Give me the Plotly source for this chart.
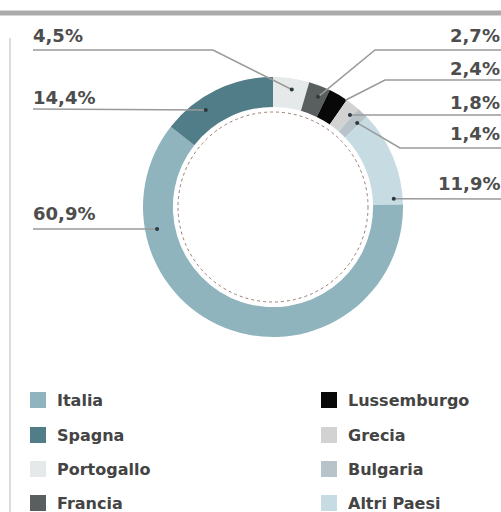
import math
import plotly.graph_objects as go

# ---------------- data ----------------
countries = ["Italia", "Spagna", "Portogallo", "Francia",
             "Lussemburgo", "Grecia", "Bulgaria", "Altri Paesi"]
shares = [60.9, 14.4, 4.5, 2.7, 2.4, 1.8, 1.4, 11.9]
# clockwise order of the slices around the ring, starting at 12 o'clock
ring_order = ["Portogallo", "Francia", "Lussemburgo", "Grecia",
              "Bulgaria", "Altri Paesi", "Italia", "Spagna"]

# ---------------- style ----------------
colors = {
    "Italia": "#8fb4be",
    "Spagna": "#517d89",
    "Portogallo": "#e6e9e9",
    "Francia": "#595e5e",
    "Lussemburgo": "#080808",
    "Grecia": "#d2d2d2",
    "Bulgaria": "#b8c3c9",
    "Altri Paesi": "#c6dce2",
}
W, H = 501, 512
cx, cy, R_out = 273, 207, 130
hole = 0.77
# label layout: side, text centre y, line y, bend x, anchor fraction in slice, anchor radius, dot
label_cfg = {
    "Portogallo":  ("left", 35, 50, 213, 0.56, 119, True),
    "Spagna":      ("left", 97, 109, None, 0.33, 118, True),
    "Italia":      ("left", 213, 229, None, 0.777, 118, True),
    "Francia":     ("right", 35, 50, 375, 0.62, 119, True),
    "Lussemburgo": ("right", 68, 80, 385, 0.95, 129, False),
    "Grecia":      ("right", 102, 115, None, 0.82, 120, True),
    "Bulgaria":    ("right", 133, 148, 400, 0.79, 119, True),
    "Altri Paesi": ("right", 183, 199, None, 0.935, 121, True),
}
left_x, right_x = 33, 500
line_col = "#9a9a9a"
pct_font = dict(family="DejaVu Sans", size=18, color="#4d4d4d", weight="bold")
leg_font = dict(family="DejaVu Sans", size=16, color="#444444", weight="bold")


def px(x):
    return x / W


def py(y):
    return 1 - y / H


share_of = dict(zip(countries, shares))
ring_vals = [share_of[c] for c in ring_order]
total = sum(ring_vals)

fig = go.Figure()
fig.add_trace(go.Pie(
    labels=ring_order, values=ring_vals, sort=False, direction="clockwise",
    rotation=0, hole=hole, textinfo="none", hoverinfo="label+percent",
    marker=dict(colors=[colors[c] for c in ring_order], line=dict(width=0)),
    domain=dict(x=[px(cx - R_out), px(cx + R_out)],
                y=[py(cy + R_out), py(cy - R_out)]),
    showlegend=False,
))

shapes = []
annotations = []

# top band and left rule
shapes.append(dict(type="line", xref="paper", yref="paper", x0=0, x1=1,
                   y0=py(13), y1=py(13), line=dict(color="#ababab", width=5)))
shapes.append(dict(type="line", xref="paper", yref="paper", x0=px(10), x1=px(10),
                   y0=py(38), y1=0, line=dict(color="#d0d0d0", width=1.5)))

# inner dotted circle
r_in = 95
shapes.append(dict(type="circle", xref="paper", yref="paper",
                   x0=px(cx - r_in), x1=px(cx + r_in),
                   y0=py(cy + r_in), y1=py(cy - r_in),
                   line=dict(color="#9a7e72", width=1, dash="dot")))

# leader lines and labels
cum = 0.0
for name, v in zip(ring_order, ring_vals):
    a0 = cum / total * 360
    span = v / total * 360
    cum += v
    side, ty, ly, bend, frac, r, dot = label_cfg[name]
    th = math.radians(a0 + frac * span)
    dx_, dy_ = cx + r * math.sin(th), cy - r * math.cos(th)
    edge = left_x if side == "left" else W
    pts = [(edge, ly)]
    if bend is not None:
        pts.append((bend, ly))
    pts.append((dx_, dy_))
    path = "M " + " L ".join(f"{px(a)},{py(b)}" for a, b in pts)
    shapes.append(dict(type="path", xref="paper", yref="paper", path=path,
                       line=dict(color=line_col, width=1.5)))
    if dot:
        shapes.append(dict(type="circle", xref="paper", yref="paper",
                           x0=px(dx_ - 2), x1=px(dx_ + 2), y0=py(dy_ + 2), y1=py(dy_ - 2),
                           fillcolor="#2a3a40", line=dict(width=0)))
    text = f"{v:.1f}%".replace(".", ",")
    annotations.append(dict(
        text=text, xref="paper", yref="paper",
        x=px(left_x - 2) if side == "left" else px(right_x + 2),
        xanchor="left" if side == "left" else "right",
        y=py(ty), yanchor="middle", showarrow=False, font=pct_font))

# manual two-column legend
rows_y = [400, 435, 469, 503]
cols_x = [30, 321]
for i, name in enumerate(countries):
    col, row = divmod(i, 4)
    x0 = cols_x[col]
    yc = rows_y[row]
    shapes.append(dict(type="rect", xref="paper", yref="paper",
                       x0=px(x0), x1=px(x0 + 16), y0=py(yc + 8), y1=py(yc - 8),
                       fillcolor=colors[name], line=dict(width=0)))
    annotations.append(dict(text=name, xref="paper", yref="paper",
                            x=px(x0 + 25), xanchor="left", y=py(yc), yanchor="middle",
                            showarrow=False, font=leg_font))

fig.update_layout(
    width=W, height=H, margin=dict(l=0, r=0, t=0, b=0),
    paper_bgcolor="white", plot_bgcolor="white",
    shapes=shapes, annotations=annotations, showlegend=False,
)
fig.write_html(
    "out.html",
    config={"displayModeBar": False},
    post_script="document.body.style.margin='0';document.body.style.overflow='hidden';",
)
